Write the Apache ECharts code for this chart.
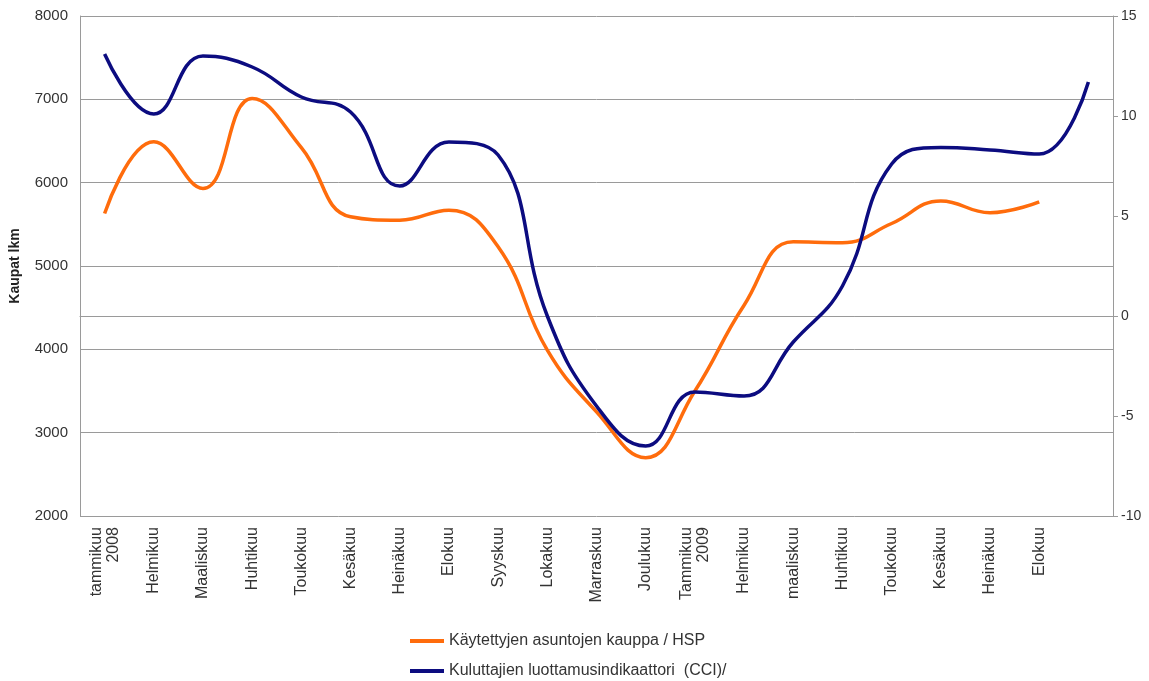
<!DOCTYPE html>
<html>
<head>
<meta charset="utf-8">
<script src="https://cdn.jsdelivr.net/npm/echarts@6/dist/echarts.min.js"></script>
<style>
  html, body { margin: 0; padding: 0; background: #fff; }
  #chart { width: 1149px; height: 681px; }
</style>
</head>
<body>
<div id="chart"></div>
<script>
// Kuukaudet tammikuu 2008 – syyskuu 2009 (viimeinen ilman nimiötä)
const months = [
  'tammikuu\n2008', 'Helmikuu', 'Maaliskuu', 'Huhtikuu', 'Toukokuu', 'Kesäkuu',
  'Heinäkuu', 'Elokuu', 'Syyskuu', 'Lokakuu', 'Marraskuu', 'Joulukuu',
  'Tammikuu\n2009', 'Helmikuu', 'maaliskuu', 'Huhtikuu', 'Toukokuu', 'Kesäkuu',
  'Heinäkuu', 'Elokuu', ''
];

// Käytettyjen asuntojen kaupat, kpl (vasen akseli)
const sales = [
  5630, 6490, 5930, 7010, 6420, 5590, 5550, 5670, 5230, 3990,
  3250, 2700, 3500, 4530, 5290, 5280, 5510, 5780, 5640, 5770
];

// Kuluttajien luottamusindikaattori CCI (oikea akseli)
const cci = [
  13.1, 10.1, 13.0, 12.45, 10.95, 10.2, 6.5, 8.7, 8.05, 0.0,
  -4.5, -6.5, -3.8, -4.0, -1.3, 1.5, 7.6, 8.43, 8.3, 8.1, 11.7
];

const leftTicks = { min: 2000, max: 8000, step: 1000 };
const rightTicks = { min: -10, max: 15, step: 5 };

const chart = echarts.init(document.getElementById('chart'), null, { renderer: 'canvas' });
const font = 'Liberation Sans, Arial, sans-serif';

chart.setOption({
  backgroundColor: '#ffffff',
  animation: false,
  grid: { left: 79, right: 36, top: 16, bottom: 165, containLabel: false },
  legend: {
    orient: 'vertical',
    left: 405,
    top: 628,
    height: 60,
    itemWidth: 34,
    itemHeight: 4,
    itemGap: 14,
    icon: 'rect',
    textStyle: { fontFamily: font, fontSize: 16, color: '#333' },
    data: ['Käytettyjen asuntojen kauppa / HSP', 'Kuluttajien luottamusindikaattori  (CCI)/']
  },
  xAxis: {
    type: 'category',
    data: months,
    boundaryGap: true,
    axisLine: { lineStyle: { color: '#9a9a9a', width: 1 } },
    axisTick: { show: false },
    axisLabel: {
      rotate: 90,
      interval: 0,
      margin: 11,
      fontFamily: font,
      fontSize: 16,
      color: '#333',
      lineHeight: 17
    }
  },
  yAxis: [
    {
      type: 'value',
      min: leftTicks.min,
      max: leftTicks.max,
      interval: leftTicks.step,
      name: 'Kaupat lkm',
      nameLocation: 'middle',
      nameRotate: 90,
      nameGap: 58,
      nameTextStyle: { fontFamily: font, fontSize: 14, color: '#222', fontWeight: 'bold' },
      axisLine: { show: true, lineStyle: { color: '#9a9a9a', width: 1 } },
      axisTick: { show: false },
      axisLabel: {
        fontFamily: font, fontSize: 15, color: '#333', margin: 12,
        formatter: v => String(v)
      },
      splitLine: { show: true, lineStyle: { color: '#9a9a9a', width: 1 } }
    },
    {
      type: 'value',
      position: 'right',
      min: rightTicks.min,
      max: rightTicks.max,
      interval: rightTicks.step,
      axisLine: { show: true, lineStyle: { color: '#9a9a9a', width: 1 } },
      axisTick: { show: true, inside: false, length: 5, lineStyle: { color: '#9a9a9a' } },
      axisLabel: { fontFamily: font, fontSize: 14, color: '#333', margin: 8 },
      splitLine: { show: false }
    }
  ],
  series: [
    {
      name: 'Käytettyjen asuntojen kauppa / HSP',
      type: 'line',
      yAxisIndex: 0,
      data: sales,
      smooth: 0.45,
      symbol: 'none',
      color: '#ff6c0c',
      lineStyle: { color: '#ff6c0c', width: 3.5 }
    },
    {
      name: 'Kuluttajien luottamusindikaattori  (CCI)/',
      type: 'line',
      yAxisIndex: 1,
      data: cci,
      smooth: 0.45,
      symbol: 'none',
      color: '#0c0c80',
      lineStyle: { color: '#0c0c80', width: 3.5 }
    }
  ]
});
</script>
</body>
</html>
